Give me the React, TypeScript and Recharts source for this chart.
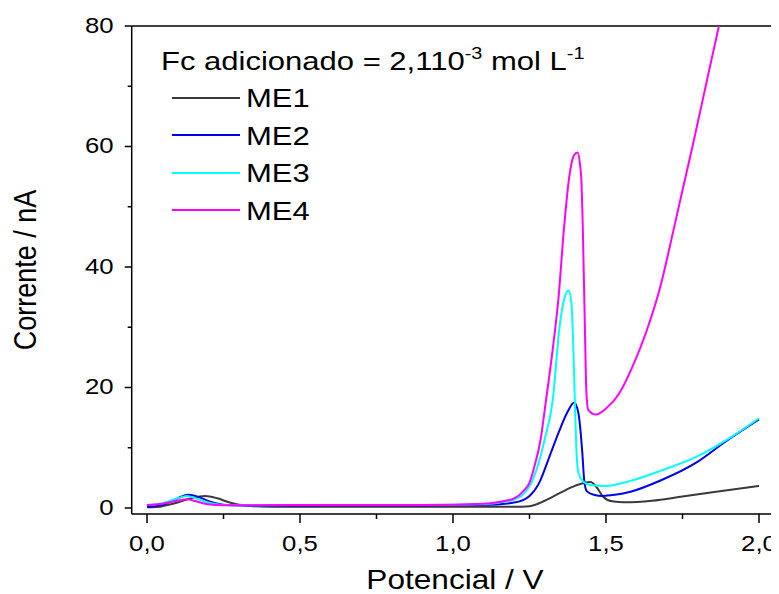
import React from 'react';
import { LineChart, Line, XAxis, YAxis, ReferenceLine, Legend } from 'recharts';

// ---- Data ----
const xTicks = [0, 0.25, 0.5, 0.75, 1.0, 1.25, 1.5, 1.75, 2.0];
const yTicks = [0, 10, 20, 30, 40, 50, 60, 70, 80];

const me1X = [0, 0.05, 0.1, 0.15, 0.19, 0.23, 0.27, 0.32, 0.4, 0.6, 0.8, 1.0, 1.2, 1.25, 1.3, 1.35, 1.4, 1.43, 1.45, 1.47, 1.49, 1.52, 1.56, 1.65, 1.75, 1.86, 2.0];
const me1Y = [0.1, 0.3, 0.9, 1.7, 2.0, 1.6, 0.9, 0.4, 0.2, 0.2, 0.2, 0.2, 0.2, 0.3, 1.2, 2.5, 3.7, 4.2, 4.3, 3.4, 1.9, 1.1, 0.95, 1.2, 1.9, 2.7, 3.65];

const me2X = [0, 0.05, 0.1, 0.135, 0.17, 0.21, 0.26, 0.35, 0.6, 0.9, 1.1, 1.2, 1.25, 1.28, 1.315, 1.348, 1.375, 1.396, 1.41, 1.422, 1.429, 1.437, 1.46, 1.49, 1.53, 1.58, 1.68, 1.8, 1.89, 2.0];
const me2Y = [0.2, 0.5, 1.6, 2.2, 1.8, 1.0, 0.5, 0.4, 0.45, 0.45, 0.5, 0.9, 2.0, 4.0, 8.5, 12.9, 16.0, 17.5, 15.7, 9.6, 4.5, 2.8, 2.2, 2.0, 2.2, 2.7, 4.6, 7.7, 11.0, 14.7];

const me3X = [0, 0.05, 0.1, 0.13, 0.16, 0.2, 0.25, 0.35, 0.6, 0.9, 1.1, 1.15, 1.2, 1.25, 1.28, 1.3, 1.326, 1.348, 1.365, 1.378, 1.387, 1.393, 1.398, 1.403, 1.41, 1.425, 1.45, 1.5, 1.58, 1.68, 1.8, 1.91, 2.0];
const me3Y = [0.5, 0.8, 1.6, 2.0, 1.6, 0.9, 0.5, 0.45, 0.5, 0.5, 0.6, 0.9, 1.4, 3.6, 7.5, 11.5, 17.9, 30, 35, 36.1, 34, 27, 18, 10, 5.8, 4.4, 3.8, 3.65, 4.5, 6.2, 8.6, 11.8, 14.9];

const me4X = [0, 0.05, 0.1, 0.13, 0.16, 0.2, 0.25, 0.35, 0.6, 0.9, 1.1, 1.15, 1.2, 1.23, 1.25, 1.266, 1.285, 1.304, 1.325, 1.345, 1.362, 1.38, 1.395, 1.407, 1.415, 1.42, 1.424, 1.431, 1.436, 1.442, 1.467, 1.5, 1.543, 1.587, 1.63, 1.684, 1.7, 1.74, 1.787, 1.83, 1.869, 1.9];
const me4Y = [0.5, 0.7, 1.2, 1.45, 1.1, 0.6, 0.45, 0.45, 0.5, 0.5, 0.7, 1.0, 1.6, 2.8, 4.2, 6.9, 11, 17.9, 26, 35, 46, 55, 58.5, 59, 57, 54, 47, 30, 19, 16.3, 15.5, 16.5, 19, 23.5, 29, 38, 41.5, 50.5, 61, 71, 80, 87];

const seriesNames = ['ME1', 'ME2', 'ME3', 'ME4'];
const seriesColors = ['#3a3a3a', '#0000ee', '#00ffff', '#ff00ff'];

const toPoints = (xs: number[], ys: number[]) => xs.map((x, i) => ({ x, y: ys[i] }));
const seriesData = [toPoints(me1X, me1Y), toPoints(me2X, me2Y), toPoints(me3X, me3Y), toPoints(me4X, me4Y)];

// ---- Layout constants ----
const FONT = '"Liberation Sans", Arial, Helvetica, sans-serif';
const SX = 1.17; // horizontal stretch of the reference text

function XTick(props: any) {
  const { x, y, payload } = props;
  const v = payload.value as number;
  const major = Math.abs(v * 2 - Math.round(v * 2)) < 1e-6;
  return (
    <g>
      <line x1={x} x2={x} y1={y} y2={y + (major ? 9 : 5)} stroke="#000" strokeWidth={1.5} />
      {major && (
        <text
          transform={`translate(${x},${y + 36.7}) scale(${SX},1)`}
          textAnchor="middle"
          fontSize={22}
          fontFamily={FONT}
          fill="#000"
        >
          {v.toFixed(1).replace('.', ',')}
        </text>
      )}
    </g>
  );
}

function YTick(props: any) {
  const { x, y, payload } = props;
  const v = payload.value as number;
  const major = v % 20 === 0;
  return (
    <g>
      <line x1={x - (major ? 7 : 4)} x2={x} y1={y} y2={y} stroke="#000" strokeWidth={1.5} />
      {major && (
        <text
          transform={`translate(${x - 18},${y + 6.8}) scale(${SX},1)`}
          textAnchor="end"
          fontSize={22}
          fontFamily={FONT}
          fill="#000"
        >
          {String(v)}
        </text>
      )}
    </g>
  );
}

function XTitle(props: any) {
  const vb = props.viewBox || { x: 0, y: 0, width: 0, height: 0 };
  return (
    <text
      transform={`translate(${vb.x + vb.width / 2 + 2},${vb.y + 75}) scale(${SX},1)`}
      textAnchor="middle"
      fontSize={27}
      fontFamily={FONT}
      fill="#000"
    >
      Potencial / V
    </text>
  );
}

function YTitle(props: any) {
  const vb = props.viewBox || { x: 0, y: 0, width: 0, height: 0 };
  return (
    <text
      transform={`translate(${vb.x - 35.7},${vb.y + vb.height / 2}) scale(${SX},1) rotate(-90)`}
      textAnchor="middle"
      fontSize={27}
      fontFamily={FONT}
      fill="#000"
    >
      Corrente / nA
    </text>
  );
}

const ROW = 37.5;
const LFS = 26.5;

function LegendBox() {
  const textStyle: React.CSSProperties = {
    position: 'absolute',
    top: 0,
    whiteSpace: 'nowrap',
    display: 'inline-block',
    transform: `scaleX(${SX})`,
    transformOrigin: 'left center',
    fontSize: LFS,
    lineHeight: `${ROW}px`,
    fontFamily: FONT,
    color: '#000',
  };
  const supStyle: React.CSSProperties = { fontSize: 17, position: 'relative', top: -11 };
  return (
    <div style={{ position: 'relative', width: 480, height: ROW * 5 }}>
      <div style={{ position: 'relative', height: ROW }}>
        <span style={{ ...textStyle, left: 0 }}>
          Fc adicionado = 2,110<span style={supStyle}>-3</span> mol L<span style={supStyle}>-1</span>
        </span>
      </div>
      {seriesNames.map((name, i) => (
        <div key={name} style={{ position: 'relative', height: ROW }}>
          <div
            style={{
              position: 'absolute',
              left: 11.5,
              top: 16.4,
              width: 68,
              height: 2,
              background: seriesColors[i],
            }}
          />
          <span style={{ ...textStyle, left: 85.1 }}>{name}</span>
        </div>
      ))}
    </div>
  );
}

export default function App() {
  return (
    <div style={{ width: 771, height: 586 }}>
      <LineChart
        width={771}
        height={586}
        margin={{ top: 18, right: 4.7, bottom: 30, left: 63.7 }}
      >
        <XAxis
          dataKey="x"
          type="number"
          domain={[-0.05, 2.05]}
          allowDataOverflow
          ticks={xTicks}
          interval={0}
          height={50}
          tickLine={false}
          tickSize={0}
          tickMargin={0}
          tick={<XTick />}
          axisLine={{ stroke: '#000', strokeWidth: 1.5 }}
          label={<XTitle />}
        />
        <YAxis
          type="number"
          domain={[-1, 80]}
          allowDataOverflow
          ticks={yTicks}
          interval={0}
          width={60}
          tickLine={false}
          tickSize={0}
          tickMargin={0}
          tick={<YTick />}
          axisLine={{ stroke: '#000', strokeWidth: 1.5 }}
          label={<YTitle />}
        />
        <ReferenceLine y={80} stroke="#000" strokeWidth={1.5} />
        <ReferenceLine x={2.05} stroke="#000" strokeWidth={1.5} />
        {seriesNames.map((name, i) => (
          <Line
            key={name}
            name={name}
            data={seriesData[i]}
            dataKey="y"
            type="monotone"
            stroke={seriesColors[i]}
            strokeWidth={2}
            dot={false}
            activeDot={false}
            isAnimationActive={false}
          />
        ))}
        <Legend
          layout="vertical"
          align="center"
          verticalAlign="middle"
          wrapperStyle={{ left: 152.5, top: 34.8, width: 480, height: ROW * 5 }}
          content={<LegendBox />}
        />
      </LineChart>
    </div>
  );
}
